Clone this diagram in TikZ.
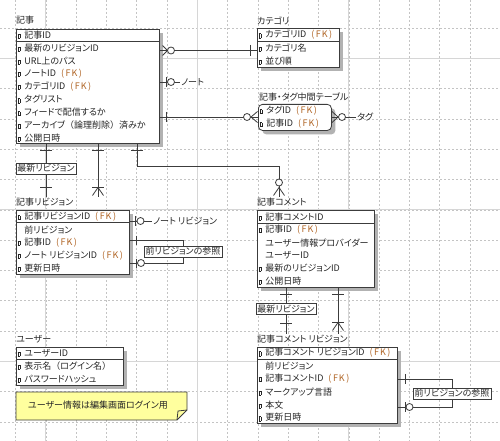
\documentclass[tikz,border=0pt]{standalone}
\usepackage{fontspec}
\setmainfont{Noto Sans CJK JP}[RawFeature=+palt]
\newfontfamily\fw{Noto Sans CJK JP}
\usetikzlibrary{shadows}
\definecolor{fkc}{RGB}{176,100,36}
\definecolor{linec}{RGB}{60,60,60}
\definecolor{gridc}{RGB}{196,196,196}
\definecolor{majc}{RGB}{214,214,214}
\definecolor{notec}{RGB}{255,255,158}
\newcommand{\fk}{\hspace{5pt}\textcolor{fkc}{(\hspace{1.5pt}F\hspace{1pt}K\hspace{1.5pt})}}
\newcommand{\mk}{\raisebox{0.4pt}{\fboxsep=0pt\fboxrule=0.5pt\fbox{\rule{0pt}{3.6pt}\hspace{1.6pt}}}\hspace{4pt}}
\newcommand{\nomk}{\phantom{\mk}}
\newcommand{\lpar}{{\fw （}}
\newcommand{\rpar}{{\fw ）}}
\begin{document}
\begin{tikzpicture}[x=1pt, y=-1pt,
  every node/.style={font=\fontsize{9}{10}\selectfont, text=black!85},
  ent/.style={draw=linec, line width=0.8pt, fill=white, anchor=north west, inner sep=0pt,
    general shadow={fill=black!30, shadow xshift=4pt, shadow yshift=-4pt}},
  attr/.style={anchor=west, inner sep=0pt},
  ttl/.style={anchor=west, inner sep=1pt},
  rlbl/.style={draw=linec, line width=0.6pt, fill=white, inner sep=1.5pt},
  rel/.style={draw=linec, line width=0.8pt},
  sep/.style={draw=linec, line width=0.8pt},
  gridl/.style={gridc, line width=0.5pt, dash pattern=on 2pt off 2pt},
  gridm/.style={majc, line width=0.8pt}]
  \useasboundingbox (0,0) rectangle (500,441);
  \fill[white] (0,0) rectangle (500,441);
  % Grid
  \foreach \i in {0,...,16} \draw[gridl] ({15.5+30.3*\i},0) -- ({15.5+30.3*\i},441);
  \foreach \i in {0,...,13} \draw[gridl] (0,{28+30.3*\i}) -- (500,{28+30.3*\i});
  \foreach \i in {1,6,11,16} \draw[gridm] ({15.5+30.3*\i},0) -- ({15.5+30.3*\i},441);
  \foreach \i in {1,6,11} \draw[gridm] (0,{28+30.3*\i}) -- (500,{28+30.3*\i});

  % Entities
  \node[ttl] (kiji-t) at (15,20) {記事};
  \node[ent, minimum width=143pt, minimum height=114pt] (kiji) at (16,29) {};
  \draw[sep] ([yshift=-12.7pt]kiji.north west) -- ([yshift=-12.7pt]kiji.north east);
  \foreach \t [count=\i] in {\mk 記事ID, \mk 最新のリビジョンID, \mk URL上のパス, \mk ノートID\fk,
      \mk カテゴリID\fk, \mk タグリスト, \mk フィードで配信するか, \mk アーカイブ\lpar 論理削除\rpar 済みか, \mk 公開日時}
    \node[attr] (kiji-\i) at (17.5,{35+12.9*(\i-1)}) {\t};

  \node[ttl] (cat-t) at (256,21) {カテゴリ};
  \node[ent, minimum width=82pt, minimum height=39pt] (cat) at (257,28) {};
  \draw[sep] ([yshift=-13.3pt]cat.north west) -- ([yshift=-13.3pt]cat.north east);
  \foreach \t [count=\i] in {\mk カテゴリID\fk, \mk カテゴリ名, \mk 並び順}
    \node[attr] (cat-\i) at (258.5,{35+13*(\i-1)}) {\t};

  \node[ttl] (kt-t) at (258,97) {記事・タグ中間テーブル};
  \node[ent, rounded corners=4pt, minimum width=73pt, minimum height=26pt] (kt) at (258,104) {};
  \foreach \t [count=\i] in {\mk タグID\fk, \mk 記事ID\fk}
    \node[attr] (kt-\i) at (259.5,{111+13*(\i-1)}) {\t};

  \node[ttl] (rev-t) at (15,202) {記事リビジョン};
  \node[ent, minimum width=113pt, minimum height=64pt] (rev) at (16,210) {};
  \draw[sep] ([yshift=-12.7pt]rev.north west) -- ([yshift=-12.7pt]rev.north east);
  \foreach \t [count=\i] in {\mk 記事リビジョンID\fk, \nomk 前リビジョン, \mk 記事ID\fk,
      \mk ノート リビジョンID\fk, \mk 更新日時}
    \node[attr] (rev-\i) at (17.5,{217+12.8*(\i-1)}) {\t};

  \node[ttl] (cmt-t) at (256,202) {記事コメント};
  \node[ent, minimum width=117pt, minimum height=77pt] (cmt) at (257,210) {};
  \draw[sep] ([yshift=-13pt]cmt.north west) -- ([yshift=-13pt]cmt.north east);
  \foreach \t [count=\i] in {\mk 記事コメントID, \mk 記事ID\fk, \nomk ユーザー情報プロバイダー,
      \nomk ユーザーID, \mk 最新のリビジョンID, \mk 公開日時}
    \node[attr] (cmt-\i) at (258.5,{217+12.8*(\i-1)}) {\t};

  \node[ttl] (usr-t) at (15,339) {ユーザー};
  \node[ent, minimum width=107pt, minimum height=38pt] (usr) at (16,347) {};
  \draw[sep] ([yshift=-12.5pt]usr.north west) -- ([yshift=-12.5pt]usr.north east);
  \foreach \t [count=\i] in {\mk ユーザーID, \mk 表示名\lpar ログイン名\rpar, \mk パスワードハッシュ}
    \node[attr] (usr-\i) at (17.5,{353+13*(\i-1)}) {\t};

  \node[ttl] (crev-t) at (256,339) {記事コメント リビジョン};
  \node[ent, minimum width=140pt, minimum height=76pt] (crev) at (257,347) {};
  \draw[sep] ([yshift=-12.5pt]crev.north west) -- ([yshift=-12.5pt]crev.north east);
  \foreach \t [count=\i] in {\mk 記事コメント リビジョンID\fk, \nomk 前リビジョン, \mk 記事コメントID\fk,
      \mk マークアップ言語, \mk 本文, \mk 更新日時}
    \node[attr] (crev-\i) at (258.5,{353+12.9*(\i-1)}) {\t};

  % Note
  \draw[draw=linec, line width=0.8pt, fill=notec] (16,392) -- (187,392) -- (187,410) -- (177,420) -- (16,420) -- cycle;
  \draw[draw=linec, line width=0.8pt] (177,420) -- (178,411) -- (187,410);
  \node (note) at (98,405) {ユーザー情報は編集画面ログイン用};

  % 記事 - カテゴリ
  \draw[rel] (kiji.east |- 0,50.5) -- (cat.west |- 0,50.5);
  \draw[rel] (162.5,45.5) -- (167.5,50.5) -- (162.5,55.5);
  \draw[rel, fill=white] (171,50.5) circle (3.5pt);
  \draw[rel] (250,45) -- (250,56);
  % 記事 - ノート
  \node[anchor=west, inner sep=1pt] (nlbl) at (180,82) {ノート};
  \draw[rel] (kiji.east |- nlbl) -- (nlbl.west);
  \draw[rel] (166,77) -- (166,87);
  \draw[rel, fill=white] (171,82) circle (3.5pt);
  % 記事 - 記事・タグ中間テーブル - タグ
  \draw[rel] (kiji.east |- 0,117) -- (kt.west |- 0,117);
  \draw[rel] (166,112) -- (166,122);
  \draw[rel] (257.5,111.5) -- (251,117) -- (257.5,122.5);
  \draw[rel, fill=white] (247,117) circle (3.5pt);
  \node[anchor=west, inner sep=1pt] (tlbl) at (356,117) {タグ};
  \draw[rel] (kt.east |- tlbl) -- (tlbl.west);
  \draw[rel] (332,111.5) -- (338,117) -- (332,122.5);
  \draw[rel, fill=white] (342,117) circle (3.5pt);

  % 記事 - 記事リビジョン
  \node[rlbl] (lbl1) at (46,168.5) {最新リビジョン};
  \draw[rel] (kiji.south -| lbl1) -- (lbl1.north);
  \draw[rel] (lbl1.south) -- (lbl1 |- rev-t.north);
  \draw[rel] (40,150) -- (52,150);
  \draw[rel] (40,187) -- (52,187);
  \draw[rel] (kiji.south -| 98,0) -- (98,0 |- rev-t.north);
  \draw[rel] (92,150) -- (104,150);
  \draw[rel] (92,187.5) -- (104,187.5);
  \draw[rel] (92.5,195.5) -- (98,187.5) -- (103.5,195.5);
  % 記事 - 記事コメント
  \draw[rel] (kiji.south -| 137,0) -- (137,166) -| (cmt-t.north -| 279,0);
  \draw[rel] (131,150) -- (143,150);
  \draw[rel] (273.5,195.5) -- (279,187.5) -- (284.5,195.5);
  \draw[rel, fill=white] (279,182.5) circle (3.5pt);

  % 記事リビジョン
  \node[anchor=west, inner sep=1pt] (nrlbl) at (152,221) {ノート リビジョン};
  \draw[rel] (rev.east |- nrlbl) -- (nrlbl.west);
  \draw[rel] (135.5,216) -- (135.5,226);
  \draw[rel, fill=white] (140.5,221) circle (3.5pt);
  \node[rlbl] (lbl2) at (183,251.5) {前リビジョンの参照};
  \draw[rel] (rev.east |- 0,240) -| (lbl2.north);
  \draw[rel] (lbl2.south) |- (rev.east |- 0,263);
  \draw[rel] (136,235.5) -- (136,244.5);
  \draw[rel] (136,258.5) -- (136,267.5);
  \draw[rel, fill=white] (141,263) circle (3.5pt);

  % 記事コメント - 記事コメント リビジョン
  \node[rlbl] (lbl3) at (286,309) {最新リビジョン};
  \draw[rel] (cmt.south -| lbl3) -- (lbl3.north);
  \draw[rel] (lbl3.south) -- (lbl3 |- crev-t.north);
  \draw[rel] (280,294) -- (292,294);
  \draw[rel] (280,323) -- (292,323);
  \draw[rel] (cmt.south -| 338,0) -- (338,0 |- crev-t.north);
  \draw[rel] (332,294) -- (344,294);
  \draw[rel] (332,322.5) -- (344,322.5);
  \draw[rel] (332.5,330.5) -- (338,322.5) -- (343.5,330.5);
  % 記事コメント リビジョン
  \node[rlbl] (lbl4) at (452,393.5) {前リビジョンの参照};
  \draw[rel] (crev.east |- 0,379) -| (lbl4.north);
  \draw[rel] (lbl4.south) |- (crev.east |- 0,407);
  \draw[rel] (405,374) -- (405,384);
  \draw[rel] (405,402) -- (405,412);
  \draw[rel, fill=white] (409.5,407) circle (3.5pt);
\end{tikzpicture}
\end{document}
